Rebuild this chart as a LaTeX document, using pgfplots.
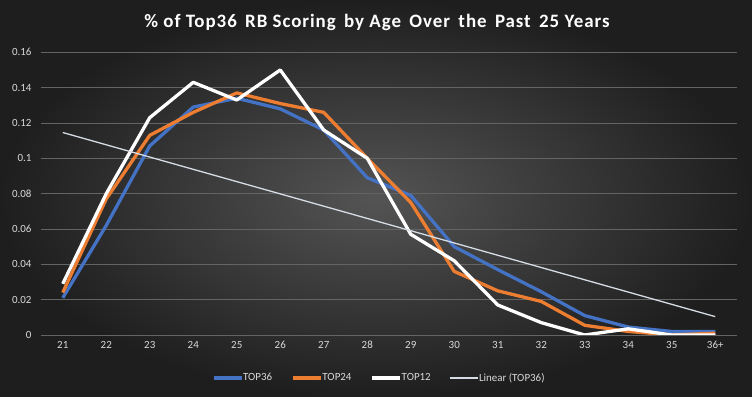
\documentclass[border=0pt]{standalone}
\usepackage{pgfplots}
\pgfplotsset{compat=1.18}
\usepackage{fontspec}
\setmainfont{Carlito}
\definecolor{bgin}{RGB}{84,84,84}
\definecolor{bgout}{RGB}{30,30,30}
\definecolor{tcol}{RGB}{217,217,217}
\definecolor{gridc}{RGB}{100,100,100}
\definecolor{c36}{RGB}{68,114,196}
\definecolor{c24}{RGB}{237,125,49}
\definecolor{trend}{RGB}{214,220,229}
\pgfplotstableread{
x top36 top24 top12
21 0.021 0.024 0.029
22 0.062 0.077 0.080
23 0.107 0.113 0.123
24 0.129 0.126 0.143
25 0.134 0.137 0.133
26 0.128 0.131 0.150
27 0.116 0.126 0.116
28 0.089 0.100 0.100
29 0.079 0.075 0.057
30 0.050 0.036 0.042
31 0.037 0.025 0.017
32 0.0245 0.019 0.007
33 0.011 0.0055 0.000
34 0.0045 0.002 0.0035
35 0.002 0.000 0.000
36 0.002 0.001 0.000
}\datatable
\begin{document}
\begin{tikzpicture}
\shade[inner color=bgin, outer color=bgout] (0,0) rectangle (752bp,397bp);
\path[use as bounding box] (0,0) rectangle (752bp,397bp);
\node[text=white, font=\fontsize{19}{22}\selectfont\bfseries\addfontfeature{LetterSpace=5}] at (377bp,375bp) {\% of Top36\, RB Scoring\, by Age\, Over\, the\, Past\, 25 Years};
\begin{axis}[
  at={(41bp,62bp)}, anchor=south west,
  scale only axis, width=696bp, height=282.7bp,
  xmin=20.5, xmax=36.5, ymin=0, ymax=0.16,
  xtick={21,...,36},
  xticklabels={21,22,23,24,25,26,27,28,29,30,31,32,33,34,35,36+},
  ytick={0,0.02,...,0.161},
  yticklabel style={/pgf/number format/fixed,/pgf/number format/precision=2},
  /pgf/number format/assume math mode=true,
  tick label style={text=tcol, font=\fontsize{11}{13}\selectfont},
  ymajorgrids, major grid style={gridc, line width=0.6pt},
  axis line style={draw=none},
  major tick length=0pt,
  xticklabel shift=3pt,
  yticklabel shift=6pt,
  legend columns=4,
  legend style={draw=none, fill=none, text=tcol, font=\fontsize{11}{13}\selectfont,
    at={(0.486,-0.152)}, anchor=center,
    /tikz/every odd column/.append style={column sep=-2pt},
    /tikz/every even column/.append style={column sep=17pt}},
  legend cell align=left,
  legend image code/.code={\draw[#1] (0bp,0bp) -- (28bp,0bp);},
]
\addplot[c36, line width=3.3pt, line join=round] table[x=x,y=top36] {\datatable};
\addlegendentry{TOP36}
\addplot[c24, line width=3.3pt, line join=round] table[x=x,y=top24] {\datatable};
\addlegendentry{TOP24}
\addplot[white, line width=3.3pt, line join=round] table[x=x,y=top12] {\datatable};
\addlegendentry{TOP12}
\addplot[trend, line width=1.3pt] coordinates {(21,0.1146) (36,0.0104)};
\addlegendentry{Linear (TOP36)}
\end{axis}
\end{tikzpicture}
\end{document}
